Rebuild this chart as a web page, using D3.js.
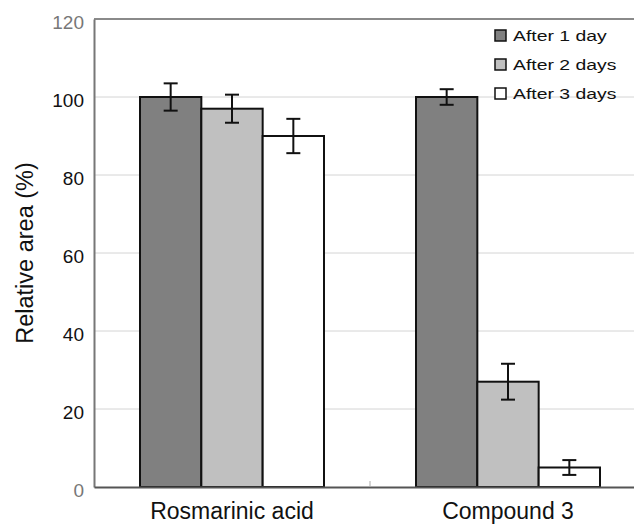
<!DOCTYPE html>
<html>
<head>
<meta charset="utf-8">
<script src="https://cdn.jsdelivr.net/npm/d3@7"></script>
<style>
  body { margin: 0; background: #fff; }
  svg { display: block; font-family: Arial, "Liberation Sans", sans-serif; }
</style>
</head>
<body>
<div id="chart"></div>
<script>
// data
const categories = ["Rosmarinic acid", "Compound 3"];
const seriesNames = ["After 1 day", "After 2 days", "After 3 days"];
const day1 = [100, 100];
const day2 = [97, 27];
const day3 = [90, 5];
const err1 = [3.5, 2];
const err2 = [3.6, 4.6];
const err3 = [4.4, 1.9];
const yTicks = [0, 20, 40, 60, 80, 100, 120];

const seriesValues = [day1, day2, day3];
const seriesErrors = [err1, err2, err3];
const seriesColors = ["#808080", "#c0c0c0", "#ffffff"];

const width = 634,
  height = 525,
  marginLeft = 94,
  marginTop = 19,
  marginBottom = 38,
  plotRight = 646; // plot runs off the right edge in the original

const svg = d3
  .select("#chart")
  .append("svg")
  .attr("width", width)
  .attr("height", height)
  .attr("viewBox", [0, 0, width, height]);

const x0 = d3
  .scaleBand()
  .domain(categories)
  .range([marginLeft, plotRight])
  .paddingInner(1 / 3)
  .paddingOuter(1 / 6);

const x1 = d3
  .scaleBand()
  .domain(d3.range(seriesNames.length))
  .range([0, x0.bandwidth()]);

const y = d3
  .scaleLinear()
  .domain([0, 120])
  .range([height - marginBottom, marginTop]);

// gridlines
svg
  .append("g")
  .selectAll("line")
  .data(yTicks.filter((t) => t > 0 && t < 120))
  .join("line")
  .attr("x1", marginLeft)
  .attr("x2", plotRight)
  .attr("y1", (d) => y(d))
  .attr("y2", (d) => y(d))
  .attr("stroke", "#d4d4d4")
  .attr("stroke-width", 1);

// top frame line
svg
  .append("line")
  .attr("x1", marginLeft)
  .attr("x2", plotRight)
  .attr("y1", y(120))
  .attr("y2", y(120))
  .attr("stroke", "#8a8a8a")
  .attr("stroke-width", 2);

// bars
const flat = [];
categories.forEach((c, ci) => {
  seriesNames.forEach((s, si) => {
    flat.push({ c, si, v: seriesValues[si][ci], e: seriesErrors[si][ci] });
  });
});

const barG = svg.append("g");
barG
  .selectAll("rect")
  .data(flat)
  .join("rect")
  .attr("x", (d) => x0(d.c) + x1(d.si))
  .attr("y", (d) => y(d.v))
  .attr("width", x1.bandwidth())
  .attr("height", (d) => y(0) - y(d.v))
  .attr("fill", (d) => seriesColors[d.si])
  .attr("stroke", "#111")
  .attr("stroke-width", 2);

// error bars
const capW = 14;
const errG = svg.append("g").attr("stroke", "#111").attr("stroke-width", 2);
flat.forEach((d) => {
  const cx = x0(d.c) + x1(d.si) + x1.bandwidth() / 2;
  errG
    .append("line")
    .attr("x1", cx)
    .attr("x2", cx)
    .attr("y1", y(d.v + d.e))
    .attr("y2", y(d.v - d.e));
  [d.v + d.e, d.v - d.e].forEach((v) => {
    errG
      .append("line")
      .attr("x1", cx - capW / 2)
      .attr("x2", cx + capW / 2)
      .attr("y1", y(v))
      .attr("y2", y(v));
  });
});

// y axis
const yAxis = d3.axisLeft(y).tickValues(yTicks).tickSize(0).tickPadding(10);
svg
  .append("g")
  .attr("transform", `translate(${marginLeft},0)`)
  .call(yAxis)
  .call((g) => g.select(".domain").attr("stroke", "#777").attr("stroke-width", 2))
  .call((g) =>
    g
      .selectAll(".tick text")
      .attr("font-size", 19)
      .attr("font-family", "Arial, 'Liberation Sans', sans-serif")
      .attr("dy", "0.48em")
      .attr("fill", (d) => (d === 0 || d === 120 ? "#777" : "#111"))
  );

// x axis
const xAxis = d3.axisBottom(x0).tickSize(0).tickPadding(16);
svg
  .append("g")
  .attr("transform", `translate(0,${y(0)})`)
  .call(xAxis)
  .call((g) => g.select(".domain").attr("stroke", "#555").attr("stroke-width", 2))
  .call((g) =>
    g
      .selectAll(".tick text")
      .attr("font-size", 23)
      .attr("font-family", "Arial, 'Liberation Sans', sans-serif")
      .attr("fill", "#111")
  );

// small divider tick between the groups
const divX = x0(categories[1]) - (x0.step() - x0.bandwidth()) / 2;
svg
  .append("line")
  .attr("x1", divX)
  .attr("x2", divX)
  .attr("y1", y(0))
  .attr("y2", y(0) - 6)
  .attr("stroke", "#aaa")
  .attr("stroke-width", 1);

// y title
svg
  .append("text")
  .attr("transform", `translate(33,${(y(0) + y(120)) / 2}) rotate(-90)`)
  .attr("text-anchor", "middle")
  .attr("font-size", 23.5)
  .attr("fill", "#111")
  .text("Relative area (%)");

// legend
const legend = svg.append("g").attr("transform", "translate(495,41)");
seriesNames.forEach((s, i) => {
  const row = legend.append("g").attr("transform", `translate(0,${i * 29})`);
  row
    .append("rect")
    .attr("x", 0)
    .attr("y", -11)
    .attr("width", 11)
    .attr("height", 11)
    .attr("fill", seriesColors[i])
    .attr("stroke", "#111")
    .attr("stroke-width", 1.5);
  const t = row
    .append("text")
    .attr("x", 18)
    .attr("y", 0)
    .attr("font-size", 15.5)
    .attr("fill", "#111")
    .text(s);
  const len = t.node().getComputedTextLength();
  t.attr("textLength", len * 1.25).attr("lengthAdjust", "spacingAndGlyphs");
});
</script>
</body>
</html>
